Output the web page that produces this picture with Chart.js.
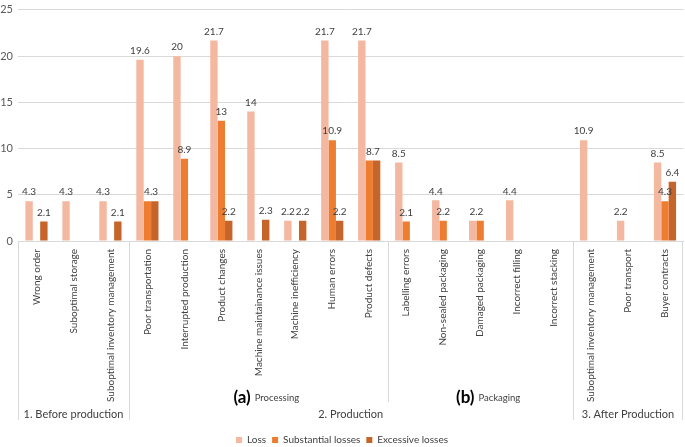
<!DOCTYPE html>
<html>
<head>
<meta charset="utf-8">
<script src="https://cdn.jsdelivr.net/npm/chart.js@4.4.0/dist/chart.umd.min.js"></script>
<style>
  body { margin: 0; background: #fff; }
  #wrap { width: 685px; height: 447px; }
</style>
</head>
<body>
<div id="wrap"><canvas id="chart"></canvas></div>
<script>
const categories = [
  "Wrong order",
  "Suboptimal storage",
  "Suboptimal inventory management",
  "Poor transportation",
  "Interrupted production",
  "Product changes",
  "Machine maintainance issues",
  "Machine inefficiency",
  "Human errors",
  "Product defects",
  "Labelling errors",
  "Non-sealed packaging",
  "Damaged packaging",
  "Incorrect filling",
  "Incorrect stacking",
  "Suboptimal inventory management",
  "Poor transport",
  "Buyer contracts",
]

const loss = [4.3, 4.3, 4.3, 19.6, 20, 21.7, 14, 2.2, 21.7, 21.7, 8.5, 4.4, 2.2, 4.4, null, 10.9, 2.2, 8.5]
const substantial = [null, null, null, 4.3, 8.9, 13, null, null, 10.9, 8.7, 2.1, 2.2, 2.2, null, null, null, null, 4.3]
const excessive = [2.1, null, 2.1, 4.3, null, 2.2, 2.3, 2.2, 2.2, 8.7, null, null, null, null, null, null, null, 6.4]

const yTicks = [0, 5, 10, 15, 20, 25]

// category groups under the axis (start/end are category indexes)
const groups = [
  { label: "1. Before production", start: 0, end: 2 },
  { label: "2. Production", start: 3, end: 14 },
  { label: "3. After Production", start: 15, end: 17 },
]
const subGroups = [
  { tag: "(a)", label: "Processing", start: 3, end: 9 },
  { tag: "(b)", label: "Packaging", start: 10, end: 14 },
]

const font = "Lato, 'Open Sans', sans-serif"

// value labels above the bars, one shared label when two neighbours are equal
const valueLabels = {
  id: "valueLabels",
  afterDatasetsDraw(chart) {
    const ctx = chart.ctx
    const sets = chart.data.datasets
    ctx.save()
    ctx.font = "10px " + font
    ctx.fillStyle = "#404040"
    ctx.textAlign = "center"
    ctx.textBaseline = "bottom"
    sets.forEach((ds, i) => {
      const meta = chart.getDatasetMeta(i)
      meta.data.forEach((bar, j) => {
        const v = ds.data[j]
        if (v == null) return
        if (i > 0 && sets[i - 1].data[j] === v) return
        let x = bar.x
        if (sets[i + 1] && sets[i + 1].data[j] === v) {
          x = (bar.x + chart.getDatasetMeta(i + 1).data[j].x) / 2
        }
        ctx.fillText(String(v), x, bar.y - 4)
      })
    })
    ctx.restore()
  },
}

// multi-level category axis: separators, group names, (a)/(b) notes
const groupAxis = {
  id: "groupAxis",
  afterLayout(chart) {
    // push the legend a bit lower, like the original
    chart.legend.top += 8
    chart.legend.bottom += 8
  },
  afterDraw(chart) {
    const ctx = chart.ctx
    const x = chart.scales.x
    const bottom = chart.chartArea.bottom
    const step = x.getPixelForValue(1) - x.getPixelForValue(0)
    const edge = (i) => x.getPixelForValue(i) - step / 2
    ctx.save()
    ctx.strokeStyle = "#d9d9d9"
    ctx.lineWidth = 1
    const line = (px, len) => {
      const p = Math.round(px) + 0.5
      ctx.beginPath()
      ctx.moveTo(p, bottom)
      ctx.lineTo(p, bottom + len)
      ctx.stroke()
    }
    groups.forEach((g) => line(edge(g.start), 179))
    line(edge(groups[groups.length - 1].end + 1) - 1, 179)
    line(edge(subGroups[1].start), 161)

    ctx.fillStyle = "#404040"
    ctx.textBaseline = "middle"
    ctx.textAlign = "center"
    ctx.font = "11px " + font
    groups.forEach((g) => {
      const cx = (edge(g.start) + edge(g.end + 1)) / 2
      ctx.fillText(g.label, cx, bottom + 173)
    })

    ctx.textBaseline = "alphabetic"
    subGroups.forEach((g) => {
      const cx = (edge(g.start) + edge(g.end + 1)) / 2 + 8
      ctx.font = "bold 17px " + font
      const tw = ctx.measureText(g.tag).width
      ctx.font = "9.5px " + font
      const lw = ctx.measureText(g.label).width
      const left = cx - (tw + 4 + lw) / 2
      ctx.textAlign = "left"
      ctx.fillStyle = "#000"
      ctx.font = "bold 17px " + font
      ctx.fillText(g.tag, left, bottom + 162)
      ctx.fillStyle = "#404040"
      ctx.font = "9.5px " + font
      ctx.fillText(g.label, left + tw + 4, bottom + 160)
    })
    ctx.restore()
  },
}

let chart = new Chart(document.getElementById("chart").getContext("2d"), {
  type: "bar",
  data: {
    labels: categories,
    datasets: [
      { label: "Loss", data: loss, backgroundColor: "#F4B8A1" },
      { label: "Substantial losses", data: substantial, backgroundColor: "#ED7D31" },
      { label: "Excessive losses", data: excessive, backgroundColor: "#C5652B" },
    ],
  },
  options: {
    responsive: true,
    maintainAspectRatio: false,
    animation: false,
    datasets: {
      bar: {
        categoryPercentage: 0.6,
        barPercentage: 1.0,
        skipNull: false,
      },
    },
    layout: {
      padding: { left: 0, right: 1, top: 0, bottom: 0 },
    },
    plugins: {
      legend: {
        position: "bottom",
        labels: {
          font: { family: font, size: 10 },
          color: "#404040",
          boxWidth: 6,
          boxHeight: 6,
          padding: 6,
        },
      },
      tooltip: { enabled: false },
    },
    scales: {
      x: {
        grid: { display: false, drawTicks: false },
        border: { color: "#d9d9d9" },
        ticks: {
          autoSkip: false,
          minRotation: 90,
          maxRotation: 90,
          padding: 8,
          color: "#404040",
          font: { family: font, size: 10 },
        },
        afterFit(scale) {
          scale.height = 180
        },
      },
      y: {
        min: 0,
        max: 25,
        afterBuildTicks(scale) {
          scale.ticks = yTicks.map((v) => ({ value: v }))
        },
        grid: { color: "#d9d9d9", drawTicks: false },
        border: { display: false },
        ticks: {
          color: "#595959",
          padding: 5,
          font: { family: font, size: 11, lineHeight: 0.9 },
        },
        afterFit(scale) {
          scale.width = 18
        },
      },
    },
  },
  plugins: [valueLabels, groupAxis],
})
</script>
</body>
</html>
